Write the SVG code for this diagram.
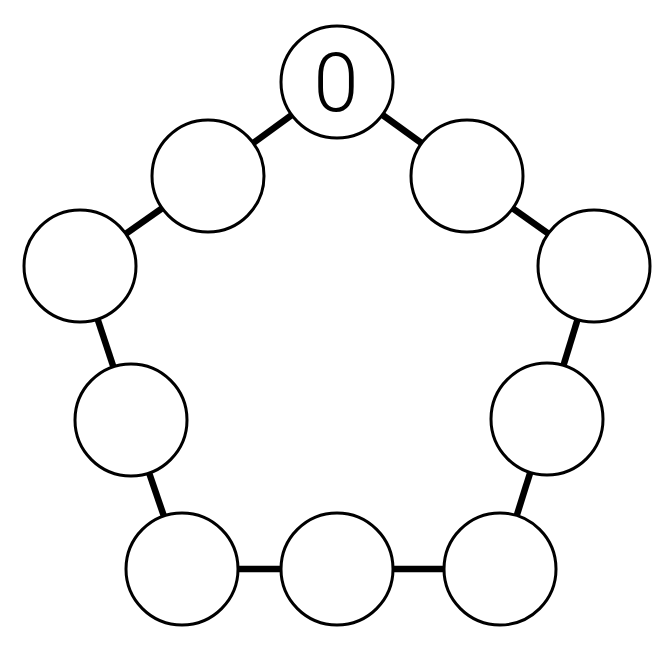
<svg xmlns="http://www.w3.org/2000/svg" width="664" height="648" viewBox="0 0 664 648">
<style>
.node circle{fill:#fff;stroke:#000;stroke-width:3}
.edges line{stroke:#000;stroke-width:6.5}
.lbl{font-family:Roboto,"Liberation Sans",Arial,sans-serif;font-weight:300;font-size:81px;fill:#000;text-anchor:middle}
</style>
<rect width="664" height="648" fill="#fff"/>
<g id="connectors" class="edges">
<line x1="337" y1="82" x2="208" y2="176"/>
<line x1="337" y1="82" x2="467" y2="176"/>
<line x1="208" y1="176" x2="80" y2="266"/>
<line x1="467" y1="176" x2="594" y2="266"/>
<line x1="80" y1="266" x2="131" y2="420"/>
<line x1="594" y1="266" x2="547" y2="419"/>
<line x1="131" y1="420" x2="182" y2="569"/>
<line x1="547" y1="419" x2="500" y2="569"/>
<line x1="182" y1="569" x2="337" y2="569"/>
<line x1="337" y1="569" x2="500" y2="569"/>
</g>
<g id="n0" class="node"><circle cx="337" cy="82" r="56"/><text class="lbl" x="336" y="111">0</text></g>
<g id="n1" class="node"><circle cx="208" cy="176" r="56"/></g>
<g id="n2" class="node"><circle cx="467" cy="176" r="56"/></g>
<g id="n3" class="node"><circle cx="80" cy="266" r="56"/></g>
<g id="n4" class="node"><circle cx="594" cy="266" r="56"/></g>
<g id="n5" class="node"><circle cx="131" cy="420" r="56"/></g>
<g id="n6" class="node"><circle cx="547" cy="419" r="56"/></g>
<g id="n7" class="node"><circle cx="182" cy="569" r="56"/></g>
<g id="n8" class="node"><circle cx="337" cy="569" r="56"/></g>
<g id="n9" class="node"><circle cx="500" cy="569" r="56"/></g>
</svg>
